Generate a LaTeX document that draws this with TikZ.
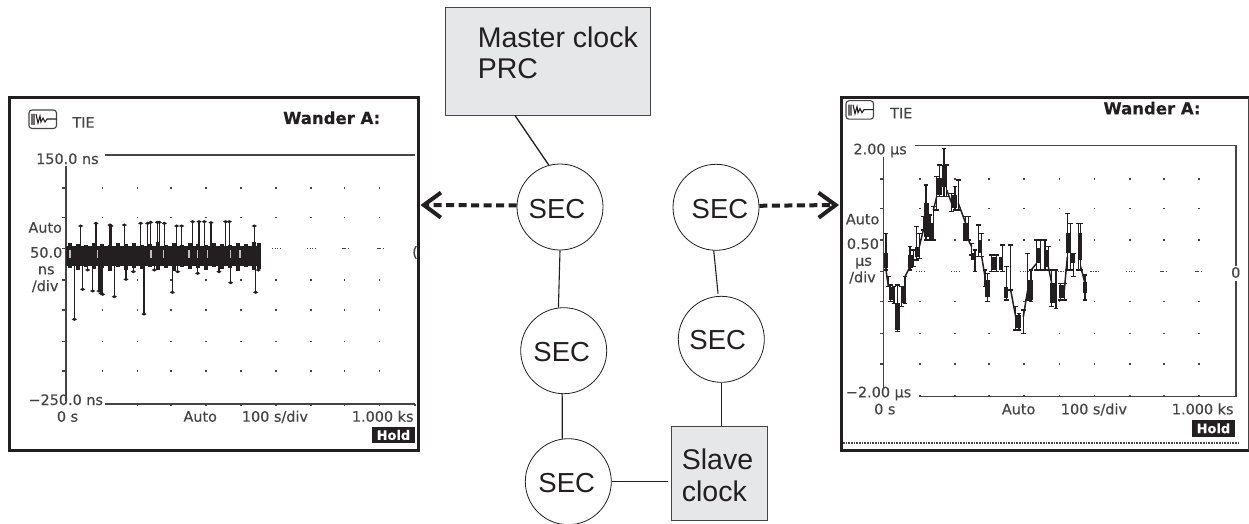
\documentclass[tikz,border=0pt]{standalone}
\usepackage{fontspec}
\setmainfont{Liberation Sans}
\newfontfamily\scr[FakeBold=0.25]{DejaVu Sans}
\newfontfamily\scrb[FakeBold=0.3]{DejaVu Sans Bold}
\usetikzlibrary{arrows.meta,calc}
\definecolor{ink}{HTML}{231F20}
\definecolor{boxgray}{HTML}{E6E7E8}
\definecolor{dim}{HTML}{444444}
\tikzset{
  x=1pt,y=-1pt,
  sec/.style={circle,draw=ink,line width=0.8pt,minimum size=86pt,inner sep=0pt,fill=white},
  sectxt/.style={inner sep=0pt,text=ink,font=\fontsize{27.5}{27.5}\selectfont},
  clockbox/.style={rectangle,draw=dim,line width=0.9pt,fill=boxgray,inner sep=0pt},
  bigtxt/.style={anchor=base west,inner sep=0pt,text=ink,font=\fontsize{28.5}{28.5}\selectfont},
  link/.style={draw=ink,line width=1.3pt},
  dashlink/.style={draw=ink,line width=4pt,dash pattern=on 8pt off 4.5pt,-{Straight Barb[length=17pt,width=25pt,line width=4pt]}},
  frame/.style={draw=ink,line width=3pt},
  lbl/.style={anchor=base west,inner sep=0pt,text=dim,font=\scr\fontsize{14.4}{14.4}\selectfont},
  wander/.style={anchor=base west,inner sep=0pt,text=ink,font=\scrb\fontsize{16.5}{16.5}\selectfont},
  holdtxt/.style={inner sep=0pt,text=white,font=\scrb\fontsize{13}{13}\selectfont},
  axisline/.style={draw=dim,line width=1.3pt},
  griddot/.style={fill=dim},
  trace/.style={draw=ink,line width=1.5pt},
  blob/.style={draw=ink,line width=4.5pt},
}
\newcommand{\screenicon}[2]{%
  \draw[draw=dim,line width=1.1pt,rounded corners=3pt] (#1,#2) rectangle +(27.5,18.5);
  \draw[draw=ink,line width=1.1pt] (#1+3,#2+4) -- +(0,11) (#1+5,#2+4) -- +(0,11)
     (#1+7,#2+4) -- +(2,9) -- +(4,2) -- +(5,8) -- +(7,4) -- +(9,8) -- +(11,5) -- +(20.5,5);
}
\begin{document}
\begin{tikzpicture}
\useasboundingbox (0,0) rectangle (1249,524);
\fill[white] (0,0) rectangle (1249,524);

% ---- left screen
\draw[frame] (9,98) rectangle (418,450);
\screenicon{29}{110}
\node[lbl] at (72.3,127.7) {TIE};
\node[wander] at (283,124) {Wander A:};
\node[lbl] at (36,164) {150.0 ns};
\node[lbl] at (28.3,232.7) {Auto};
\node[lbl] at (30,257.7) {50.0};
\node[lbl] at (37.7,274.3) {ns};
\node[lbl] at (31.7,291) {/div};
\node[lbl] at (28.3,405) {−250.0 ns};
\node[lbl] at (56.7,421.7) {0 s};
\node[lbl] at (183.3,421.7) {Auto};
\node[lbl] at (241.7,421.7) {100 s/div};
\node[lbl] at (351.7,421.7) {1.000 ks};
\node[lbl] at (412,257) {(};
\fill[ink] (371.7,426.7) rectangle (415,443.3);
\node[holdtxt] at (393.4,435) {Hold};
\draw[axisline] (105,155) -- (415,155);
\draw[axisline] (105,404) -- (415,404);
\draw[axisline] (66,166) -- (66,401);
\foreach \y in {188,217.7,248.7,280,310,341.7,371}
  \draw[axisline] (62,\y) -- (66,\y);
\foreach \x in {137.7,171,206,241,276,311,344.3,379.3,415}
  \draw[axisline] (\x,404) -- (\x,406);
\foreach \y in {188,217.7,280,310,341.7,371}
  \foreach \x in {102.7,137.7,171,206,241,276,311,344.3,379.3}
    \fill[griddot] (\x-.7,\y-.7) rectangle +(1.4,1.4);
\foreach \x in {272,307}
  \draw[draw=dim,line width=1.2pt,dash pattern=on 1.3pt off 1.2pt] (\x,248.7) -- +(8,0);
\foreach \x in {342,377}
  \draw[draw=dim,line width=1.2pt,dash pattern=on 4pt off 1.5pt on 1.5pt off 2pt] (\x,248.7) -- +(8,0);
% left data
\fill[ink] (66,246) rectangle (260,266);
\foreach \x/\a/\b in {70/243/268,78/244/270,86/245/267,94/243/269,102/244/268,110/245/271,118/243/267,126/244/270,134/243/268,142/245/269,150/244/267,158/242/270,166/245/268,174/243/271,182/245/267,190/243/269,198/244/268,206/245/270,214/243/267,222/244/269,230/245/268,238/243/271,246/244/267,254/242/270,259/243/269}
  \draw[ink,line width=3.5pt] (\x,\a) -- (\x,\b);
\foreach \zx/\zy in {242/408,288/400,330/405,333/408,373/405,422/400,443/400,452/397,472/397,478/397,493/400,530/408,545/408,578/395,597/395,613/395,633/398,677/395,688/395,763/408,
  223/688,248/598,278/603,297/603,303/610,308/613,343/620,432/672,517/607,692/578,767/607,263/540,378/568,400/545,463/540,533/545,593/550,657/545,775/540}
{
  \draw[trace] ({\zx/3},255) -- ({\zx/3},{90+\zy/3});
  \fill[ink] ({\zx/3-2.6},{90+\zy/3}) -- ({\zx/3},{90+\zy/3-1.6}) -- ({\zx/3+2.6},{90+\zy/3}) -- ({\zx/3},{90+\zy/3+1.6}) -- cycle;
}
\foreach \zx in {210,292,453,490,567,593,622,692,720}
  \draw[white!75!black,line width=1.1pt] ({\zx/3},{90+480/3}) -- ({\zx/3},{90+503/3});

% ---- right screen
\draw[frame] (1249,98) -- (841,98) -- (841,450) -- (1249,450);
\draw[draw=dim,line width=1pt] (1248.3,98) -- (1248.3,450);
\screenicon{846}{100.7}
\node[lbl] at (890,118.3) {TIE};
\node[wander] at (1103.3,114.3) {Wander A:};
\node[lbl] at (853.3,154.3) {2.00 µs};
\node[lbl] at (845.7,224.3) {Auto};
\node[lbl] at (846.7,249) {0.50};
\node[lbl] at (855,265.7) {µs};
\node[lbl] at (849,282.3) {/div};
\node[lbl] at (845.7,397.3) {−2.00 µs};
\node[lbl] at (874,414.3) {0 s};
\node[lbl] at (1001.7,414.3) {Auto};
\node[lbl] at (1060.7,414.3) {100 s/div};
\node[lbl] at (1171.7,414.3) {1.000 ks};
\node[lbl] at (1231,277.7) {0};
\fill[ink] (1191.7,420) rectangle (1235,436.7);
\node[holdtxt] at (1213.4,428.3) {Hold};
\draw[axisline] (915,145.7) -- (1236,145.7) -- (1236,266);
\draw[axisline] (1236,281) -- (1236,396.7) -- (919,396.7);
\draw[axisline] (883.3,157) -- (883.3,388);
\foreach \y in {179,208.3,240,271.7,301.7,333.3,364}
  \draw[axisline] (880,\y) -- (883.3,\y);
\foreach \x in {920,955,989,1024,1059.3,1094.3,1130,1164,1199}
  \draw[axisline] (\x,396.7) -- (\x,394.5);
\foreach \y in {179,208.3,240,301.7,333.3,364}
  \foreach \x in {920,955,989,1024,1059.3,1094.3,1130,1164,1199}
    \fill[griddot] (\x-.7,\y-.7) rectangle +(1.4,1.4);
\foreach \x in {916,951,1020,1055.3,1090.3}
  \draw[draw=dim,line width=1.2pt,dash pattern=on 1.3pt off 1.2pt] (\x,271.7) -- +(8,0);
\foreach \x in {1090,1126}
  \draw[draw=dim,line width=1.2pt,dash pattern=on 1.3pt off 1.2pt] (\x,271.7) -- +(8,0);
\foreach \x in {1160,1195}
  \draw[draw=dim,line width=1.2pt,dash pattern=on 4pt off 1.5pt on 1.5pt off 2pt] (\x,271.7) -- +(8,0);
\draw[draw=dim,line width=2pt,dash pattern=on .8pt off .8pt] (842.7,442.7) -- (1238,442.7);
% right data: step trace with error bars
\foreach \zx/\a/\b in {198/430/540,205/560/590,212/585/635,222/590/640,232/585/725,245/590/650,255/560/640,270/470/540,280/480/530,290/410/510,298/430/505,310/380/420,318/285/450,330/375/450,340/350/450,350/260/360,358/225/320,372/175/320,380/225/320,395/310/365,405/290/360,415/270/360,437/380/450,445/380/450,455/460/495,465/480/545,475/405/500,485/430/500,495/540/590,503/550/635,515/495/545,530/495/545,547/465/545,560/530/630,572/465/600,587/650/720,597/670/720,610/660/730,623/490/630,633/540/635,650/450/540,662/450/540,675/450/540,685/470/540,695/540/650,708/540/655,722/580/630,733/580/630,742/370/540,752/400/540,760/490/560,775/400/540,782/400/540,795/555/630}
{
  \draw[trace] ({820+\zx/3},{90+\a/3}) -- ({820+\zx/3},{90+\b/3});
  \draw[ink,line width=1.4pt] ({820+\zx/3-2.3},{90+\a/3}) -- +(4.6,0) ({820+\zx/3-2.3},{90+\b/3}) -- +(4.6,0);
}
\foreach \zx/\a/\b in {198/490/535,215/590/630,232/640/720,250/590/640,272/495/535,292/470/500,320/340/440,335/400/450,358/265/315,372/225/290,403/315/355,437/400/450,460/490/510,480/450/490,503/570/620,520/500/540,543/500/540,558/590/625,595/675/715,632/570/630,655/475/520,680/480/530,698/580/640,725/585/625,745/430/490,757/490/520,780/430/510,795/575/610}
  \draw[blob] ({820+\zx/3},{90+\a/3}) -- ({820+\zx/3},{90+\b/3});
\foreach \zxa/\ya/\zxb/\yb in {198/540/205/590,222/640/232/640,255/560/270/530,298/470/310/420,340/360/350/320,380/300/395/340,415/340/437/400,445/450/455/470,485/500/495/560,515/520/530/520,572/600/587/680,610/680/623/600,633/540/650/520,685/530/695/580,733/600/742/500,795/580/782/530}
  \draw[trace] ({820+\zxa/3},{90+\ya/3}) -- ({820+\zxb/3},{90+\yb/3});

% ---- centre network
\node[clockbox,minimum width=204.5pt,minimum height=108pt] (master) at (547.9,61) {};
\node[bigtxt] (mastertxt) at (477.7,48) {Master clock};
\node[bigtxt] (prctxt) at (477.7,79) {PRC};
\node[clockbox,minimum width=95.3pt,minimum height=94.7pt] (slave) at (719.3,473.4) {};
\node[bigtxt] (slavetxt) at (681.7,469) {Slave};
\node[bigtxt] (clocktxt) at (681.7,501) {clock};
\node[sec] (c1) at (560,207) {};
\node[sec] (c2) at (563.7,350.7) {};
\node[sec] (c3) at (568.3,481.7) {};
\node[sec] (c4) at (716,207.3) {};
\node[sec] (c5) at (721.3,339.3) {};
\node[sectxt] (t1) at (557,209) {SEC};
\node[sectxt] (t2) at (561.7,351.7) {SEC};
\node[sectxt] (t3) at (566.7,483) {SEC};
\node[sectxt] (t4) at (720,209) {SEC};
\node[sectxt] (t5) at (717.7,340) {SEC};
\coordinate (mfoot) at (515,115.5);
\coordinate (lefttip) at (420.5,205);
\coordinate (righttip) at (839,205);
\draw[link] (mfoot) -- (c1.105);
\draw[link,line width=1.1pt] (c1.-90) -- (c2.97);
\draw[link,line width=1.1pt] (c2.-92) -- (c3.98);
\draw[link] (c3.east) -- ([xshift=-3.5pt]slave.west |- c3.east);
\draw[link,line width=1.1pt,shorten >=2.5pt] (c4.-93) -- (c5.94);
\draw[link] (c5.south) -- (c5.south |- slave.north);
\draw[dashlink] (c1.178) -- (lefttip);
\draw[dashlink] (c4.2) -- (righttip);
\end{tikzpicture}
\end{document}
